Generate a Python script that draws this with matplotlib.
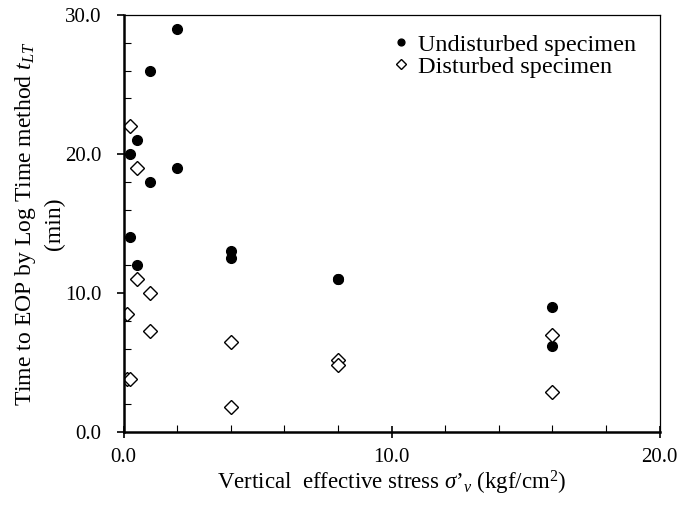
import matplotlib
matplotlib.use("Agg")
import matplotlib.pyplot as plt
from matplotlib.ticker import MultipleLocator, FormatStrFormatter

plt.rcParams['font.family'] = ['Liberation Serif', 'DejaVu Serif']
plt.rcParams['mathtext.fontset'] = 'custom'
plt.rcParams['mathtext.it'] = 'Liberation Serif:italic'
plt.rcParams['mathtext.rm'] = 'Liberation Serif'

undist_x = [0.25, 0.25, 0.5, 0.5, 1, 1, 2, 2, 4, 4, 8, 8, 16, 16]
undist_y = [20, 14, 21, 12, 26, 18, 29, 19, 13, 12.5, 11, 11, 9, 6.2]
dist_x = [0.125, 0.125, 0.25, 0.25, 0.5, 0.5, 1, 1, 4, 4, 8, 8, 16, 16]
dist_y = [8.5, 3.8, 22, 3.8, 19, 11, 10, 7.3, 6.5, 1.8, 5.2, 4.8, 7, 2.9]

fig = plt.figure(figsize=(6.84, 5.08), dpi=100)
ax = fig.add_axes([123.5/684, 1 - 432/508, 536/684, 417/508])

ax.plot(undist_x, undist_y, 'o', color='black', markersize=7, linestyle='none',
        label='Undisturbed specimen')
ax.plot(dist_x, dist_y, 'D', markerfacecolor='white', markeredgecolor='black',
        markeredgewidth=1.0, markersize=6.8, linestyle='none', label='Disturbed specimen')

ax.set_xlim(0, 20)
ax.set_ylim(0, 30)
ax.xaxis.set_major_locator(MultipleLocator(10))
ax.xaxis.set_minor_locator(MultipleLocator(2))
ax.yaxis.set_major_locator(MultipleLocator(10))
ax.yaxis.set_minor_locator(MultipleLocator(2))
ax.xaxis.set_major_formatter(FormatStrFormatter('%.1f'))
ax.yaxis.set_major_formatter(FormatStrFormatter('%.1f'))

ax.tick_params(axis='x', which='major', direction='inout', length=9, width=1.2, labelsize=15, pad=7)
ax.tick_params(axis='y', which='major', direction='out', length=5, width=1.2, labelsize=15, pad=11)
ax.tick_params(which='minor', direction='in', length=5, width=0.8)
ax.tick_params(top=False, right=False, which='both')

for s in ['left', 'bottom']:
    ax.spines[s].set_linewidth(1.8)
for s in ['top', 'right']:
    ax.spines[s].set_linewidth(0.9)

ax.set_xlabel("Vertical  effective stress $\\sigma$\u2019$_{v}$ (kgf/cm$^{2}$)", fontsize=16.5, labelpad=1)
ax.set_ylabel("Time to EOP by Log Time method $t_{LT}$\n(min)", fontsize=17, labelpad=0,
              linespacing=1.35)

ax.legend(loc='upper right', bbox_to_anchor=(0.957, 0.955), frameon=False, fontsize=17.5,
          handletextpad=0.15, labelspacing=0.0, markerscale=0.7, borderaxespad=0.0,
          borderpad=0.0, handlelength=1.1)

fig.savefig('out.png', dpi=100)
